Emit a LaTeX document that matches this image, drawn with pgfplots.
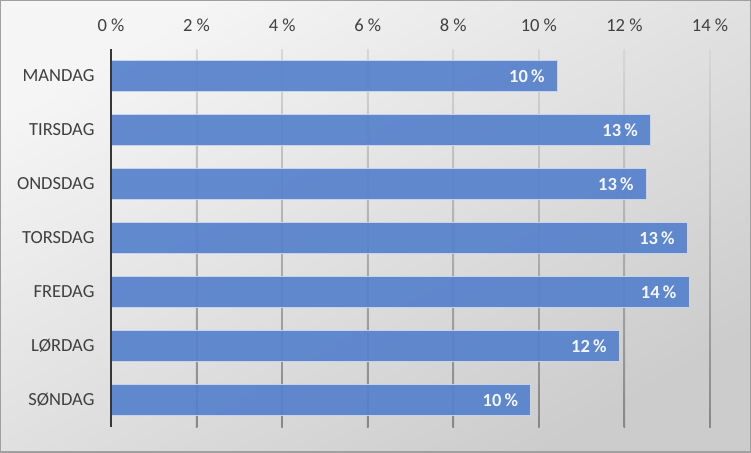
\documentclass[border=0pt]{standalone}
\usepackage{fontspec}
\setmainfont{Carlito}
\usepackage{pgfplots}
\pgfplotsset{compat=1.18}
\definecolor{barblue}{RGB}{86,129,204}
\definecolor{baredge}{RGB}{196,212,238}
\definecolor{txt}{RGB}{64,64,64}
\definecolor{bgA}{RGB}{245,245,245}
\definecolor{bgB}{RGB}{204,204,204}
\begin{document}
\begin{tikzpicture}[x=1pt,y=1pt]
\shade[top color=bgA, bottom color=bgB, shading angle=30] (0,0) rectangle (751,452);
\draw[color={rgb,255:red,160;green,160;blue,160}, line width=2pt] (0,0) rectangle (751,452);
\begin{axis}[
  at={(111pt,25pt)}, anchor=south west,
  scale only axis, width=599pt, height=378pt,
  xmin=0, xmax=14, ymin=-0.5, ymax=6.5,
  y dir=reverse,
  axis line style={draw=none},
  major tick length=0pt,
  xtick={0,2,4,6,8,10,12,14},
  xticklabels={0 \%,2 \%,4 \%,6 \%,8 \%,10 \%,12 \%,14 \%},
  xticklabel pos=upper,
  ytick={0,1,2,3,4,5,6},
  yticklabels={MANDAG,TIRSDAG,ONDSDAG,TORSDAG,FREDAG,LØRDAG,SØNDAG},
  tick label style={font=\fontsize{18.5}{20}\selectfont, text=txt},
  yticklabel style={xshift=-13pt},
  xticklabel style={yshift=14pt},
  /pgf/number format/assume math mode=true,
  xbar, bar width=31pt,
  point meta=x,
  nodes near coords={\pgfmathprintnumber[fixed,precision=0]{\pgfplotspointmeta}\,\%},
  nodes near coords style={anchor=east, xshift=-9pt, text=white, font=\fontsize{18.5}{20}\selectfont\bfseries},
  clip=false,
]
\pgfplotsinvokeforeach{2,4,6,8,10,12,14}{
  \shade[top color={rgb,255:red,215;green,215;blue,215}, bottom color={rgb,255:red,135;green,135;blue,135}]
    ([xshift=-0.8pt]axis cs:#1,-0.5) rectangle ([xshift=0.8pt]axis cs:#1,6.5);
}
\addplot[fill=barblue, fill opacity=0.92, draw=baredge, line width=0.8pt] coordinates {
  (10.43,0) (12.61,1) (12.51,2) (13.47,3) (13.51,4) (11.88,5) (9.81,6)
};
\draw[color={rgb,255:red,55;green,55;blue,55}, line width=1.6pt] (axis cs:0,-0.5) -- (axis cs:0,6.5);
\end{axis}
\pgfresetboundingbox
\path[use as bounding box] (0,0) rectangle (751,452);
\end{tikzpicture}
\end{document}
